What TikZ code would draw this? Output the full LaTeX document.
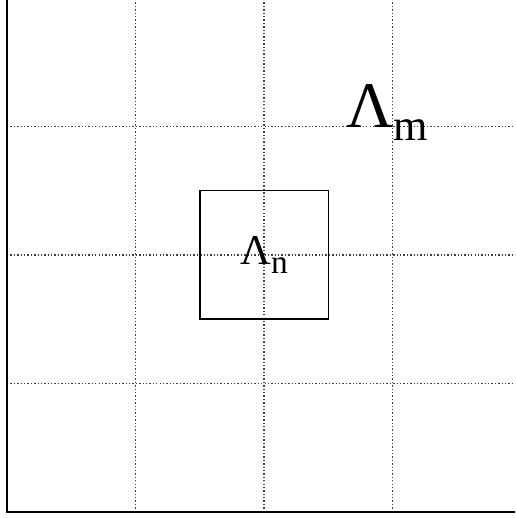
\documentclass[tikz,border=0pt]{standalone}
\usepackage{fontspec}
\setmainfont{Liberation Serif}
\newcommand{\lamsub}[4]{{\fontsize{#1}{#1}\selectfont Λ\raisebox{#3}{\fontsize{#2}{#2}\selectfont #4}}}
\begin{document}
\begin{tikzpicture}[gridline/.style={black!75, line width=0.3pt, dash pattern=on 0.3pt off 0.45pt}]
    \useasboundingbox (-0.055,-0.047) rectangle (3.953,3.984);
    \clip (-0.055,-0.047) rectangle (3.953,3.984);

    % grid
    \foreach \k in {1,2,3} {
        \draw[gridline] (\k,0) -- (\k,4);
        \draw[gridline] (0,\k) -- (4,\k);
    }

    % outer box
    \draw[line width=0.35pt] (0,0) rectangle (4,4);

    % inner box
    \node[draw, line width=0.35pt, minimum size=1cm, inner sep=0pt] (inner) at (2,2) {\lamsub{9.4}{7.4}{-2pt}{n}};

    \node[anchor=base, inner sep=0pt] (outer) at (2.96,2.99) {\lamsub{14.4}{9.8}{-2.9pt}{m}};
\end{tikzpicture}
\end{document}
